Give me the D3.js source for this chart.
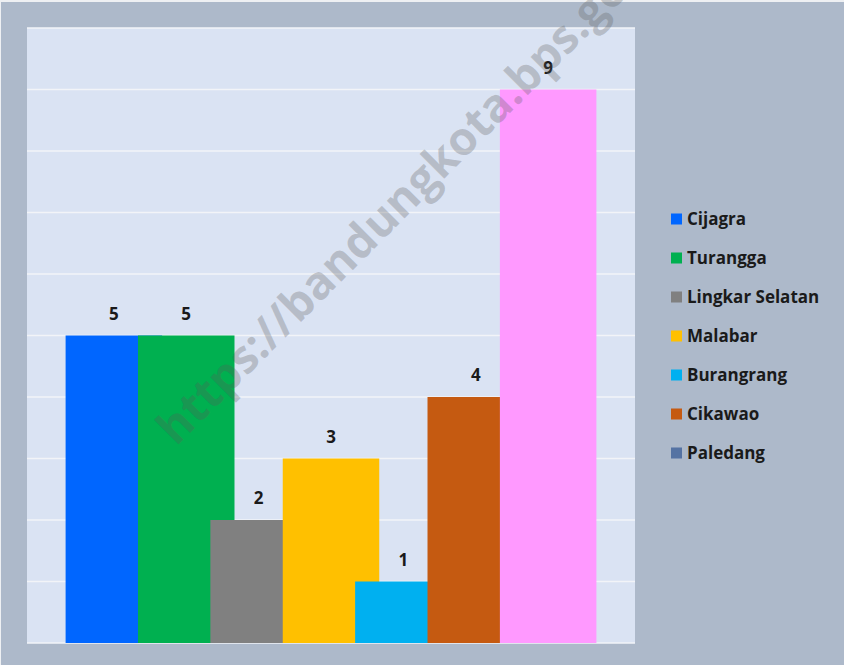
<!DOCTYPE html>
<html lang="id">
<head>
<meta charset="UTF-8">
<title>Jumlah per Kelurahan</title>
<style>
  html, body { margin: 0; padding: 0; background: #eef0f3; }
  #chart { display: block; }
  text { font-family: "Open Sans", Lato, Arial, sans-serif; }
</style>
</head>
<body>
<svg id="chart" width="844" height="665"></svg>
<script src="https://cdn.jsdelivr.net/npm/d3@7"></script>
<script>
// data
const names = ["Cijagra", "Turangga", "Lingkar Selatan", "Malabar", "Burangrang", "Cikawao", "Paledang"];
const values = [5, 5, 2, 3, 1, 4, 9];
const barColors = ["#0066ff", "#00b050", "#808080", "#ffc000", "#00b0f0", "#c55a11", "#ff99ff"];
const legendColors = ["#0066ff", "#00b050", "#808080", "#ffc000", "#00b0f0", "#c55a11", "#5573a3"];
const gridTicks = [0, 1, 2, 3, 4, 5, 6, 7, 8, 9, 10];

const svg = d3.select("#chart");
const W = 844, H = 665;

// chart area (outer grey-blue) and plot area
svg.append("rect").attr("x", 1).attr("y", 2).attr("width", W - 1).attr("height", H - 2)
  .attr("fill", "#adb9ca");

const plot = { left: 27, top: 28, right: 635, bottom: 643 };
svg.append("rect")
  .attr("x", plot.left).attr("y", plot.top)
  .attr("width", plot.right - plot.left).attr("height", plot.bottom - plot.top)
  .attr("fill", "#dae3f3");

const y = d3.scaleLinear().domain([0, 10]).range([plot.bottom, plot.top]);

// excel-style clustered bars: gap width 80%, overlap 25%
const gapWidth = 0.8, overlap = 0.25;
const n = names.length;
const barW = (plot.right - plot.left) / (gapWidth + 1 + (n - 1) * (1 - overlap));
const step = barW * (1 - overlap);
const x0 = plot.left + barW * gapWidth / 2;
const x = d3.scalePoint().domain(names).range([x0, x0 + (n - 1) * step]);

// gridlines
svg.append("g").selectAll("line").data(gridTicks).join("line")
  .attr("x1", plot.left).attr("x2", plot.right)
  .attr("y1", d => y(d)).attr("y2", d => y(d))
  .attr("stroke", "#f2f4f8").attr("stroke-width", 1.6);

const data = names.map((name, i) => ({ name, value: values[i], color: barColors[i] }));

svg.append("g").selectAll("rect").data(data).join("rect")
  .attr("x", d => x(d.name))
  .attr("y", d => y(d.value))
  .attr("width", barW)
  .attr("height", d => y(0) - y(d.value))
  .attr("fill", d => d.color);

svg.append("g").selectAll("text").data(data).join("text")
  .attr("x", d => x(d.name) + barW / 2)
  .attr("y", d => y(d.value) - 16)
  .attr("text-anchor", "middle")
  .attr("font-size", 17)
  .attr("font-weight", "bold")
  .attr("fill", "#1a1a1a")
  .text(d => d.value);

// legend
const legend = svg.append("g").attr("transform", "translate(671,219)");
const item = legend.selectAll("g").data(names).join("g")
  .attr("transform", (d, i) => `translate(0,${i * 39})`);
item.append("rect").attr("x", 0).attr("y", -5.5).attr("width", 11).attr("height", 11)
  .attr("fill", (d, i) => legendColors[i]);
item.append("text").attr("x", 16).attr("y", 6)
  .attr("font-size", 17).attr("font-weight", "bold").attr("fill", "#1a1a1a")
  .text(d => d);

// watermark (runs off the top edge, as in the source image)
svg.append("text")
  .attr("transform", "translate(176,447) rotate(-45)")
  .attr("font-size", 46)
  .attr("font-weight", "bold")
  .attr("fill", "rgba(90,90,90,0.28)")
  .text("https://bandungkota.bps.go.id");
</script>
</body>
</html>
